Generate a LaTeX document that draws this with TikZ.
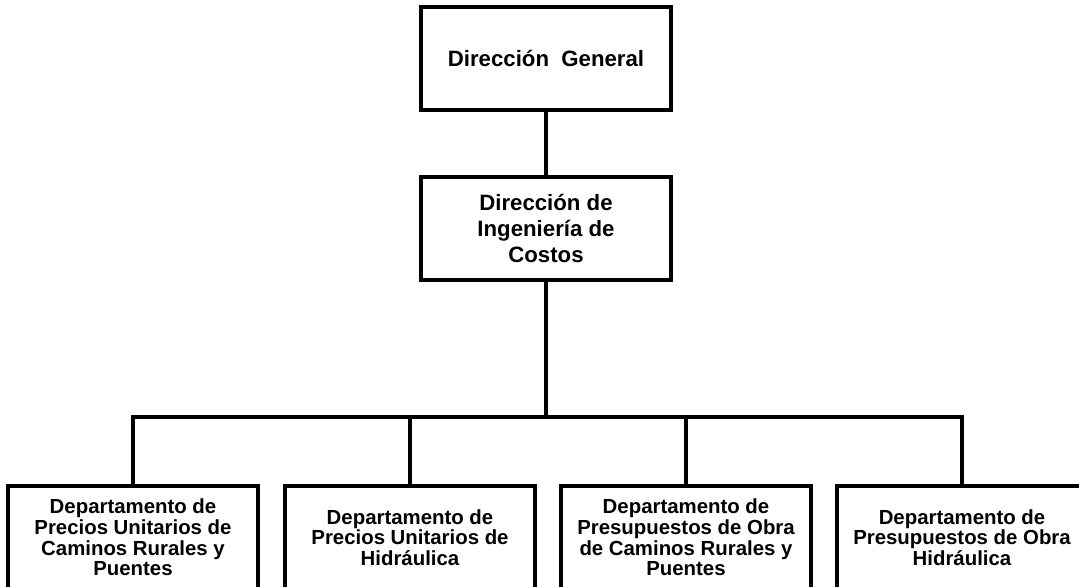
\documentclass[tikz,border=0pt]{standalone}
\usepackage{fontspec}
\setmainfont{Liberation Sans}
\usetikzlibrary{calc}

\tikzset{
  orgbox/.style={draw,line width=2.4pt,minimum width=6.25cm,minimum height=2.575cm,
                 align=center,inner sep=2pt,font=\bfseries\fontsize{15.8}{18.5}\selectfont},
  depbox/.style={orgbox,font=\bfseries\fontsize{14.5}{14.6}\selectfont},
}

\begin{document}
\begin{tikzpicture}[line width=2.4pt]
  \useasboundingbox (0,0) rectangle (26.975,-14.675);
  \clip (0,0) rectangle (26.975,-14.675);
  % upper levels
  \node[orgbox] (dg) at (13.65,-1.46) {Direcci\'on\ \ General};
  \node[orgbox] (dic) at (13.65,-5.71) {Direcci\'on de\\Ingenier\'ia de\\Costos};
  \coordinate (bar) at (13.65,-10.425);
  % departments (bottom row runs off the page)
  \node[depbox] (dpu1) at (3.325,-13.4375) {Departamento de\\Precios Unitarios de\\Caminos Rurales y\\Puentes};
  \node[depbox] (dpu2) at (10.25,-13.4375) {Departamento de\\Precios Unitarios de\\Hidr\'aulica};
  \node[depbox] (dpo1) at (17.15,-13.4375) {Departamento de\\Presupuestos de Obra\\de Caminos Rurales y\\Puentes};
  \node[depbox] (dpo2) at (24.05,-13.4375) {Departamento de\\Presupuestos de Obra\\Hidr\'aulica};
  % connectors
  \draw (dg) -- (dic);
  \draw (dic) -- (bar);
  \draw (bar) -| (dpu1.north);
  \draw (bar) -| (dpu2.north);
  \draw (bar) -| (dpo1.north);
  \draw (bar) -| (dpo2.north);
\end{tikzpicture}
\end{document}
